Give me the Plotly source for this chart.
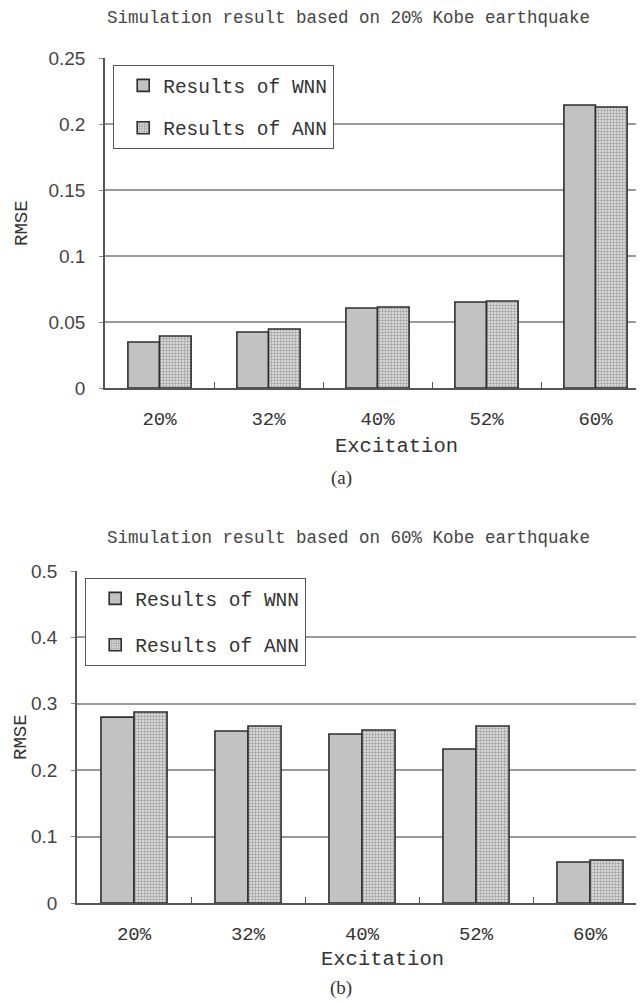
import plotly.graph_objects as go

categories = ["20%", "32%", "40%", "52%", "60%"]
wnn_a = [0.0348, 0.0424, 0.0606, 0.0652, 0.2144]
ann_a = [0.0394, 0.0447, 0.0614, 0.0659, 0.2129]
wnn_b = [0.280, 0.259, 0.2545, 0.232, 0.0617]
ann_b = [0.2877, 0.2666, 0.2605, 0.2666, 0.0648]

title_a = "Simulation result based on 20% Kobe earthquake"
title_b = "Simulation result based on 60% Kobe earthquake"
ytitle = "RMSE"
xtitle = "Excitation"

# the page body has an 8px margin; the figure fills the rest of the window
OFF = 8
SW, SH = 644, 1002
W, H = SW - OFF, SH - OFF
MONO = "Liberation Mono, Courier New, monospace"
SANS = "Liberation Sans, Arial, sans-serif"
SERIF = "Liberation Serif, Times New Roman, serif"
TXT = "#333333"

def px_(x):
    return (x - OFF) / W

def py(y):
    return 1 - (y - OFF) / H

fig = go.Figure()

def add_pair(wnn, ann, xa, ya, leg):
    fig.add_trace(go.Bar(
        x=categories, y=wnn, name="Results of WNN", xaxis=xa, yaxis=ya,
        legend=leg, legendgroup=leg + "w",
        marker=dict(color="#c2c2c2", line=dict(color="#2e2e2e", width=1.6)),
    ))
    fig.add_trace(go.Bar(
        x=categories, y=ann, name="Results of ANN", xaxis=xa, yaxis=ya,
        legend=leg, legendgroup=leg + "a",
        marker=dict(color="#d2d2d2", line=dict(color="#2e2e2e", width=1.6),
                    pattern=dict(shape="+", size=3, solidity=0.35,
                                 fgcolor="#9a9a9a", bgcolor="#d6d6d6",
                                 fillmode="replace")),
    ))

add_pair(wnn_a, ann_a, "x", "y", "legend")
add_pair(wnn_b, ann_b, "x2", "y2", "legend2")

xcommon = dict(type="category", showline=True, linecolor="#555555", linewidth=1.5,
               ticks="inside", tickson="boundaries", ticklen=6, tickcolor="#555555",
               tickwidth=1.2, showgrid=False, zeroline=False,
               tickfont=dict(family=MONO, size=19, color=TXT), ticklabelstandoff=12)
ycommon = dict(showline=True, linecolor="#555555", linewidth=1.5, ticks="outside",
               ticklen=4, tickcolor="#888888", showgrid=True, gridcolor="#9a9a9a",
               gridwidth=1.5, zeroline=False,
               tickfont=dict(family=SANS, size=19, color="#444444"),
               ticklabelstandoff=10)

legcommon = dict(xanchor="left", yanchor="top", bordercolor="#555555",
                 borderwidth=1.2, bgcolor="white",
                 font=dict(family=MONO, size=19.5, color=TXT),
                 traceorder="grouped", indentation=9, itemwidth=30)

fig.update_layout(
    width=W, height=H,
    margin=dict(l=0, r=0, t=0, b=0, autoexpand=False),
    paper_bgcolor="white", plot_bgcolor="white",
    barmode="group", bargap=0.42, bargroupgap=0,
    xaxis=dict(domain=[px_(105), 1], range=[-0.5, -0.5 + (SW - 105) / 109],
               anchor="y", **xcommon),
    yaxis=dict(domain=[py(388), py(58)], range=[0, 0.25], dtick=0.05,
               anchor="x", **ycommon),
    xaxis2=dict(domain=[px_(77), 1], range=[-0.5, -0.5 + (SW - 77) / 114],
                anchor="y2", **xcommon),
    yaxis2=dict(domain=[py(903), py(571)], range=[0, 0.5], dtick=0.1,
                anchor="x2", **ycommon),
    legend=dict(x=px_(113), y=py(65), tracegroupgap=14, **legcommon),
    legend2=dict(x=px_(85), y=py(578), tracegroupgap=18, **legcommon),
    showlegend=True,
)

ann = []
def text(t, x, y, font, size, color=TXT, angle=0):
    ann.append(dict(text=t, x=px_(x), y=py(y), xref="paper", yref="paper",
                    xanchor="center", yanchor="middle", showarrow=False,
                    textangle=angle, font=dict(family=font, size=size, color=color)))

text(title_a, 348, 18, MONO, 17.5, "#444444")
text(title_b, 348, 538, MONO, 17.5, "#444444")
text(ytitle, 22, 223, MONO, 19, TXT, -90)
text(ytitle, 21, 737, MONO, 19, TXT, -90)
text(xtitle, 396, 446, MONO, 20.5)
text(xtitle, 382, 959, MONO, 20.5)
text("(a)", 341, 478, SERIF, 19)
text("(b)", 341, 988, SERIF, 19)
fig.update_layout(annotations=ann)

fig.write_html("out.html")
